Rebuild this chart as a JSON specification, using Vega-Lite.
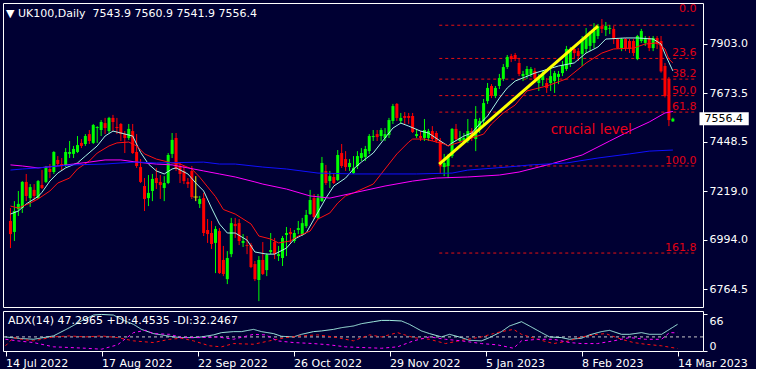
{
  "$schema": "https://vega.github.io/schema/vega-lite/v6.json",
  "background": "#000033",
  "padding": {"left": 2, "top": 2, "right": 0, "bottom": 0},
  "spacing": 2,
  "config": {
    "view": {"stroke": "#ffffff", "strokeWidth": 1, "fill": "#000033"},
    "font": "DejaVu Sans",
    "axis": {"labelFont": "DejaVu Sans", "labelFontSize": 11, "labelColor": "#ffffff", "tickColor": "#ffffff", "domain": false, "grid": false, "title": null},
    "title": {"font": "DejaVu Sans", "fontSize": 11, "fontWeight": "normal", "color": "#ffffff", "anchor": "start", "frame": "group"}
  },
  "datasets": {
    "candles": [
      {"i":0,"o":7082,"h":7142,"l":6956,"c":7021},{"i":1,"o":7031,"h":7174,"l":6989,"c":7128},{"i":2,"o":7137,"h":7221,"l":7105,"c":7161},{"i":3,"o":7142,"h":7267,"l":7119,"c":7263},{"i":4,"o":7263,"h":7300,"l":7174,"c":7198},{"i":5,"o":7188,"h":7253,"l":7147,"c":7239},{"i":6,"o":7226,"h":7253,"l":7174,"c":7198},{"i":7,"o":7188,"h":7272,"l":7184,"c":7267},{"i":8,"o":7249,"h":7318,"l":7230,"c":7235},{"i":9,"o":7263,"h":7337,"l":7258,"c":7332},
      {"i":10,"o":7323,"h":7346,"l":7281,"c":7309},{"i":11,"o":7309,"h":7406,"l":7300,"c":7402},{"i":12,"o":7365,"h":7383,"l":7337,"c":7346},{"i":13,"o":7346,"h":7374,"l":7314,"c":7337},{"i":14,"o":7342,"h":7420,"l":7332,"c":7402},{"i":15,"o":7393,"h":7453,"l":7374,"c":7402},{"i":16,"o":7393,"h":7430,"l":7374,"c":7416},{"i":17,"o":7402,"h":7476,"l":7397,"c":7434},{"i":18,"o":7444,"h":7462,"l":7420,"c":7430},{"i":19,"o":7439,"h":7485,"l":7430,"c":7476},
      {"i":20,"o":7485,"h":7504,"l":7439,"c":7453},{"i":21,"o":7444,"h":7532,"l":7439,"c":7527},{"i":22,"o":7513,"h":7522,"l":7444,"c":7518},{"i":23,"o":7504,"h":7550,"l":7476,"c":7541},{"i":24,"o":7536,"h":7560,"l":7485,"c":7513},{"i":25,"o":7499,"h":7565,"l":7490,"c":7560},{"i":26,"o":7560,"h":7574,"l":7499,"c":7541},{"i":27,"o":7518,"h":7560,"l":7485,"c":7513},{"i":28,"o":7532,"h":7536,"l":7453,"c":7485},{"i":29,"o":7485,"h":7499,"l":7397,"c":7467},
      {"i":30,"o":7467,"h":7532,"l":7458,"c":7509},{"i":31,"o":7499,"h":7532,"l":7393,"c":7397},{"i":32,"o":7402,"h":7485,"l":7328,"c":7337},{"i":33,"o":7332,"h":7369,"l":7258,"c":7263},{"i":34,"o":7244,"h":7281,"l":7128,"c":7184},{"i":35,"o":7188,"h":7295,"l":7151,"c":7212},{"i":36,"o":7221,"h":7300,"l":7174,"c":7277},{"i":37,"o":7281,"h":7328,"l":7230,"c":7258},{"i":38,"o":7263,"h":7295,"l":7184,"c":7249},{"i":39,"o":7235,"h":7290,"l":7174,"c":7258},
      {"i":40,"o":7258,"h":7397,"l":7253,"c":7388},{"i":41,"o":7393,"h":7490,"l":7374,"c":7458},{"i":42,"o":7467,"h":7490,"l":7314,"c":7323},{"i":43,"o":7337,"h":7351,"l":7258,"c":7300},{"i":44,"o":7314,"h":7337,"l":7253,"c":7267},{"i":45,"o":7263,"h":7281,"l":7235,"c":7253},{"i":46,"o":7314,"h":7337,"l":7184,"c":7193},{"i":47,"o":7193,"h":7290,"l":7174,"c":7193},{"i":48,"o":7161,"h":7198,"l":7142,"c":7184},{"i":49,"o":7188,"h":7212,"l":7012,"c":7026},
      {"i":50,"o":7040,"h":7091,"l":6980,"c":7021},{"i":51,"o":7026,"h":7082,"l":6952,"c":6975},{"i":52,"o":6980,"h":7058,"l":6840,"c":7045},{"i":53,"o":7035,"h":7049,"l":6836,"c":6840},{"i":54,"o":6901,"h":6966,"l":6826,"c":6836},{"i":55,"o":6812,"h":6942,"l":6789,"c":6910},{"i":56,"o":6928,"h":7096,"l":6914,"c":7072},{"i":57,"o":7068,"h":7096,"l":7003,"c":7058},{"i":58,"o":7072,"h":7091,"l":6970,"c":6989},{"i":59,"o":6980,"h":7021,"l":6961,"c":6989},
      {"i":60,"o":6970,"h":7012,"l":6928,"c":6966},{"i":61,"o":6970,"h":6980,"l":6863,"c":6868},{"i":62,"o":6882,"h":6896,"l":6803,"c":6812},{"i":63,"o":6808,"h":6919,"l":6710,"c":6901},{"i":64,"o":6901,"h":6984,"l":6831,"c":6836},{"i":65,"o":6854,"h":6933,"l":6826,"c":6924},{"i":66,"o":6938,"h":7026,"l":6928,"c":6947},{"i":67,"o":6984,"h":7003,"l":6905,"c":6928},{"i":68,"o":6919,"h":6966,"l":6896,"c":6928},{"i":69,"o":6910,"h":7012,"l":6873,"c":7003},
      {"i":70,"o":7017,"h":7054,"l":6919,"c":7026},{"i":71,"o":7031,"h":7049,"l":6980,"c":7021},{"i":72,"o":6989,"h":7040,"l":6980,"c":7026},{"i":73,"o":7040,"h":7082,"l":7021,"c":7049},{"i":74,"o":7021,"h":7096,"l":7012,"c":7072},{"i":75,"o":7058,"h":7133,"l":7049,"c":7110},{"i":76,"o":7114,"h":7226,"l":7110,"c":7179},{"i":77,"o":7188,"h":7207,"l":7091,"c":7100},{"i":78,"o":7096,"h":7207,"l":7091,"c":7188},{"i":79,"o":7174,"h":7379,"l":7170,"c":7351},
      {"i":80,"o":7314,"h":7342,"l":7249,"c":7258},{"i":81,"o":7267,"h":7314,"l":7235,"c":7290},{"i":82,"o":7286,"h":7304,"l":7253,"c":7258},{"i":83,"o":7272,"h":7411,"l":7267,"c":7388},{"i":84,"o":7397,"h":7439,"l":7328,"c":7337},{"i":85,"o":7369,"h":7406,"l":7314,"c":7332},{"i":86,"o":7332,"h":7369,"l":7314,"c":7351},{"i":87,"o":7304,"h":7383,"l":7300,"c":7328},{"i":88,"o":7337,"h":7406,"l":7323,"c":7383},{"i":89,"o":7374,"h":7420,"l":7360,"c":7397},
      {"i":90,"o":7379,"h":7430,"l":7360,"c":7416},{"i":91,"o":7406,"h":7485,"l":7393,"c":7476},{"i":92,"o":7471,"h":7504,"l":7453,"c":7476},{"i":93,"o":7485,"h":7504,"l":7453,"c":7471},{"i":94,"o":7476,"h":7513,"l":7453,"c":7504},{"i":95,"o":7467,"h":7513,"l":7453,"c":7485},{"i":96,"o":7481,"h":7560,"l":7467,"c":7550},{"i":97,"o":7546,"h":7625,"l":7532,"c":7615},{"i":98,"o":7625,"h":7629,"l":7546,"c":7560},{"i":99,"o":7546,"h":7583,"l":7532,"c":7560},
      {"i":100,"o":7569,"h":7587,"l":7532,"c":7560},{"i":101,"o":7569,"h":7583,"l":7532,"c":7560},{"i":102,"o":7569,"h":7583,"l":7490,"c":7495},{"i":103,"o":7476,"h":7509,"l":7467,"c":7485},{"i":104,"o":7476,"h":7499,"l":7453,"c":7467},{"i":105,"o":7467,"h":7555,"l":7453,"c":7504},{"i":106,"o":7467,"h":7509,"l":7453,"c":7499},{"i":107,"o":7499,"h":7522,"l":7453,"c":7462},{"i":108,"o":7490,"h":7499,"l":7444,"c":7453},{"i":109,"o":7453,"h":7467,"l":7300,"c":7337},
      {"i":110,"o":7332,"h":7393,"l":7290,"c":7351},{"i":111,"o":7337,"h":7393,"l":7281,"c":7383},{"i":112,"o":7383,"h":7513,"l":7374,"c":7509},{"i":113,"o":7509,"h":7532,"l":7453,"c":7462},{"i":114,"o":7453,"h":7499,"l":7444,"c":7467},{"i":115,"o":7453,"h":7490,"l":7444,"c":7467},{"i":116,"o":7453,"h":7555,"l":7444,"c":7499},{"i":117,"o":7499,"h":7513,"l":7453,"c":7467},{"i":118,"o":7462,"h":7615,"l":7406,"c":7555},{"i":119,"o":7509,"h":7560,"l":7490,"c":7546},
      {"i":120,"o":7546,"h":7648,"l":7518,"c":7629},{"i":121,"o":7638,"h":7722,"l":7625,"c":7699},{"i":122,"o":7708,"h":7717,"l":7652,"c":7662},{"i":123,"o":7662,"h":7708,"l":7652,"c":7699},{"i":124,"o":7708,"h":7764,"l":7694,"c":7745},{"i":125,"o":7741,"h":7810,"l":7731,"c":7796},{"i":126,"o":7796,"h":7852,"l":7787,"c":7843},{"i":127,"o":7847,"h":7857,"l":7819,"c":7833},{"i":128,"o":7852,"h":7861,"l":7824,"c":7833},{"i":129,"o":7815,"h":7838,"l":7754,"c":7764},
      {"i":130,"o":7754,"h":7778,"l":7731,"c":7764},{"i":131,"o":7759,"h":7801,"l":7741,"c":7787},{"i":132,"o":7764,"h":7796,"l":7750,"c":7787},{"i":133,"o":7778,"h":7792,"l":7722,"c":7741},{"i":134,"o":7722,"h":7764,"l":7685,"c":7745},{"i":135,"o":7736,"h":7778,"l":7708,"c":7764},{"i":136,"o":7722,"h":7745,"l":7676,"c":7699},{"i":137,"o":7722,"h":7787,"l":7685,"c":7754},{"i":138,"o":7731,"h":7778,"l":7676,"c":7768},{"i":139,"o":7750,"h":7778,"l":7717,"c":7764},
      {"i":140,"o":7768,"h":7824,"l":7754,"c":7805},{"i":141,"o":7787,"h":7894,"l":7778,"c":7880},{"i":142,"o":7810,"h":7889,"l":7796,"c":7880},{"i":143,"o":7880,"h":7884,"l":7833,"c":7861},{"i":144,"o":7870,"h":7884,"l":7824,"c":7847},{"i":145,"o":7857,"h":7940,"l":7801,"c":7926},{"i":146,"o":7880,"h":7977,"l":7861,"c":7940},{"i":147,"o":7894,"h":7963,"l":7870,"c":7949},{"i":148,"o":7908,"h":8000,"l":7884,"c":7963},{"i":149,"o":7940,"h":7996,"l":7926,"c":7986},
      {"i":150,"o":7986,"h":8019,"l":7954,"c":7973},{"i":151,"o":7968,"h":8005,"l":7940,"c":7986},{"i":152,"o":7973,"h":7991,"l":7949,"c":7977},{"i":153,"o":7973,"h":7986,"l":7903,"c":7926},{"i":154,"o":7926,"h":7931,"l":7880,"c":7884},{"i":155,"o":7884,"h":7931,"l":7870,"c":7926},{"i":156,"o":7926,"h":7931,"l":7870,"c":7884},{"i":157,"o":7917,"h":7926,"l":7861,"c":7880},{"i":158,"o":7917,"h":7926,"l":7847,"c":7861},{"i":159,"o":7833,"h":7945,"l":7828,"c":7940},
      {"i":160,"o":7917,"h":7973,"l":7908,"c":7963},{"i":161,"o":7908,"h":7940,"l":7894,"c":7931},{"i":162,"o":7931,"h":7940,"l":7870,"c":7884},{"i":163,"o":7884,"h":7940,"l":7870,"c":7931},{"i":164,"o":7931,"h":7940,"l":7880,"c":7903},{"i":165,"o":7917,"h":7940,"l":7770,"c":7776},{"i":166,"o":7801,"h":7815,"l":7655,"c":7662},{"i":167,"o":7741,"h":7750,"l":7522,"c":7550},{"i":168,"o":7543.9,"h":7560.9,"l":7541.9,"c":7556.4}
    ],
    "ma": [
      {"s":"fast","i":0,"price":7114},{"s":"fast","i":2,"price":7128},{"s":"fast","i":4,"price":7161},{"s":"fast","i":7,"price":7195},{"s":"fast","i":8,"price":7215},{"s":"fast","i":10,"price":7267},{"s":"fast","i":12,"price":7304},{"s":"fast","i":14,"price":7328},{"s":"fast","i":17,"price":7351},{"s":"fast","i":19,"price":7383},{"s":"fast","i":22,"price":7430},{"s":"fast","i":24,"price":7476},{"s":"fast","i":26,"price":7499},{"s":"fast","i":28,"price":7490},{"s":"fast","i":31,"price":7476},{"s":"fast","i":33,"price":7400},{"s":"fast","i":35,"price":7346},{"s":"fast","i":37,"price":7314},{"s":"fast","i":39,"price":7300},{"s":"fast","i":41,"price":7323},{"s":"fast","i":42,"price":7328},{"s":"fast","i":45,"price":7300},{"s":"fast","i":47,"price":7258},{"s":"fast","i":49,"price":7221},{"s":"fast","i":51,"price":7142},{"s":"fast","i":53,"price":7068},{"s":"fast","i":55,"price":7026},{"s":"fast","i":57,"price":7026},{"s":"fast","i":60,"price":6993},{"s":"fast","i":62,"price":6938},{"s":"fast","i":65,"price":6928},{"s":"fast","i":67,"price":6928},{"s":"fast","i":70,"price":6956},{"s":"fast","i":72,"price":6998},{"s":"fast","i":75,"price":7026},{"s":"fast","i":77,"price":7091},{"s":"fast","i":80,"price":7188},{"s":"fast","i":82,"price":7244},{"s":"fast","i":85,"price":7281},{"s":"fast","i":87,"price":7323},{"s":"fast","i":89,"price":7355},{"s":"fast","i":92,"price":7397},{"s":"fast","i":95,"price":7467},{"s":"fast","i":97,"price":7513},{"s":"fast","i":99,"price":7536},{"s":"fast","i":101,"price":7522},{"s":"fast","i":104,"price":7499},{"s":"fast","i":106,"price":7490},{"s":"fast","i":109,"price":7453},{"s":"fast","i":111,"price":7430},{"s":"fast","i":112,"price":7444},{"s":"fast","i":115,"price":7476},{"s":"fast","i":117,"price":7490},{"s":"fast","i":119,"price":7532},{"s":"fast","i":121,"price":7569},{"s":"fast","i":124,"price":7652},{"s":"fast","i":126,"price":7699},{"s":"fast","i":128,"price":7731},{"s":"fast","i":133,"price":7768},{"s":"fast","i":139,"price":7801},{"s":"fast","i":143,"price":7815},{"s":"fast","i":146,"price":7861},{"s":"fast","i":149,"price":7889},{"s":"fast","i":151,"price":7926},{"s":"fast","i":156,"price":7931},{"s":"fast","i":159,"price":7931},{"s":"fast","i":163,"price":7926},{"s":"fast","i":165,"price":7903},{"s":"fast","i":166,"price":7857},{"s":"fast","i":168,"price":7778},
      {"s":"slow","i":0,"price":7151},{"s":"slow","i":2,"price":7142},{"s":"slow","i":5,"price":7165},{"s":"slow","i":7,"price":7184},{"s":"slow","i":10,"price":7221},{"s":"slow","i":12,"price":7258},{"s":"slow","i":15,"price":7281},{"s":"slow","i":17,"price":7323},{"s":"slow","i":20,"price":7360},{"s":"slow","i":22,"price":7397},{"s":"slow","i":25,"price":7430},{"s":"slow","i":27,"price":7444},{"s":"slow","i":30,"price":7448},{"s":"slow","i":32,"price":7430},{"s":"slow","i":34,"price":7393},{"s":"slow","i":37,"price":7369},{"s":"slow","i":41,"price":7351},{"s":"slow","i":43,"price":7346},{"s":"slow","i":46,"price":7323},{"s":"slow","i":48,"price":7285},{"s":"slow","i":50,"price":7240},{"s":"slow","i":52,"price":7195},{"s":"slow","i":54,"price":7135},{"s":"slow","i":57,"price":7114},{"s":"slow","i":61,"price":7068},{"s":"slow","i":63,"price":7012},{"s":"slow","i":66,"price":6998},{"s":"slow","i":68,"price":6980},{"s":"slow","i":71,"price":6989},{"s":"slow","i":73,"price":7012},{"s":"slow","i":76,"price":7035},{"s":"slow","i":78,"price":7091},{"s":"slow","i":81,"price":7119},{"s":"slow","i":83,"price":7165},{"s":"slow","i":85,"price":7198},{"s":"slow","i":87,"price":7212},{"s":"slow","i":92,"price":7253},{"s":"slow","i":95,"price":7323},{"s":"slow","i":98,"price":7393},{"s":"slow","i":101,"price":7448},{"s":"slow","i":102,"price":7462},{"s":"slow","i":105,"price":7462},{"s":"slow","i":107,"price":7453},{"s":"slow","i":110,"price":7439},{"s":"slow","i":111,"price":7430},{"s":"slow","i":114,"price":7448},{"s":"slow","i":117,"price":7467},{"s":"slow","i":120,"price":7485},{"s":"slow","i":122,"price":7532},{"s":"slow","i":125,"price":7583},{"s":"slow","i":128,"price":7620},{"s":"slow","i":131,"price":7685},{"s":"slow","i":136,"price":7708},{"s":"slow","i":141,"price":7741},{"s":"slow","i":146,"price":7815},{"s":"slow","i":150,"price":7861},{"s":"slow","i":153,"price":7880},{"s":"slow","i":158,"price":7884},{"s":"slow","i":161,"price":7903},{"s":"slow","i":164,"price":7908},{"s":"slow","i":166,"price":7880},{"s":"slow","i":167,"price":7833},{"s":"slow","i":168,"price":7815},
      {"s":"m100","i":0,"price":7342},{"s":"m100","i":3,"price":7337},{"s":"m100","i":7,"price":7328},{"s":"m100","i":12,"price":7337},{"s":"m100","i":16,"price":7346},{"s":"m100","i":20,"price":7355},{"s":"m100","i":24,"price":7365},{"s":"m100","i":28,"price":7365},{"s":"m100","i":32,"price":7355},{"s":"m100","i":37,"price":7346},{"s":"m100","i":41,"price":7342},{"s":"m100","i":45,"price":7328},{"s":"m100","i":49,"price":7314},{"s":"m100","i":53,"price":7300},{"s":"m100","i":57,"price":7286},{"s":"m100","i":62,"price":7263},{"s":"m100","i":64,"price":7253},{"s":"m100","i":70,"price":7230},{"s":"m100","i":76,"price":7198},{"s":"m100","i":81,"price":7188},{"s":"m100","i":87,"price":7212},{"s":"m100","i":95,"price":7244},{"s":"m100","i":102,"price":7267},{"s":"m100","i":108,"price":7281},{"s":"m100","i":116,"price":7286},{"s":"m100","i":124,"price":7295},{"s":"m100","i":129,"price":7309},{"s":"m100","i":137,"price":7346},{"s":"m100","i":145,"price":7388},{"s":"m100","i":152,"price":7453},{"s":"m100","i":157,"price":7499},{"s":"m100","i":162,"price":7541},{"s":"m100","i":166,"price":7583},{"s":"m100","i":168,"price":7590},
      {"s":"m200","i":0,"price":7318},{"s":"m200","i":3,"price":7323},{"s":"m200","i":7,"price":7328},{"s":"m200","i":12,"price":7337},{"s":"m200","i":16,"price":7342},{"s":"m200","i":24,"price":7346},{"s":"m200","i":28,"price":7351},{"s":"m200","i":32,"price":7355},{"s":"m200","i":37,"price":7351},{"s":"m200","i":49,"price":7355},{"s":"m200","i":53,"price":7346},{"s":"m200","i":57,"price":7346},{"s":"m200","i":64,"price":7332},{"s":"m200","i":70,"price":7323},{"s":"m200","i":78,"price":7304},{"s":"m200","i":87,"price":7300},{"s":"m200","i":103,"price":7300},{"s":"m200","i":112,"price":7304},{"s":"m200","i":116,"price":7318},{"s":"m200","i":126,"price":7332},{"s":"m200","i":132,"price":7342},{"s":"m200","i":141,"price":7351},{"s":"m200","i":149,"price":7374},{"s":"m200","i":157,"price":7393},{"s":"m200","i":162,"price":7406},{"s":"m200","i":168,"price":7411}
    ],
    "fib": [
      {"lvl":"0.0","price":7990},{"lvl":"23.6","price":7836},{"lvl":"38.2","price":7740},{"lvl":"50.0","price":7663.5},{"lvl":"61.8","price":7587},{"lvl":"100.0","price":7337},{"lvl":"161.8","price":6933}
    ],
    "trend": [{"i":108.75,"price":7346},{"i":149,"price":7986}],
    "notes": [{"i":137,"price":7504,"label":"crucial level"}],
    "adxlevel": [{"v":25}],
    "adx": [
      {"s":"ADX","i":0,"v":25},{"s":"ADX","i":3,"v":22.6},{"s":"ADX","i":7,"v":20.8},{"s":"ADX","i":12,"v":26.8},{"s":"ADX","i":16,"v":41.4},{"s":"ADX","i":19,"v":53.3},{"s":"ADX","i":22,"v":63.8},{"s":"ADX","i":24,"v":64.9},{"s":"ADX","i":27,"v":63.8},{"s":"ADX","i":29,"v":56.1},{"s":"ADX","i":32,"v":47.3},{"s":"ADX","i":34,"v":38.4},{"s":"ADX","i":37,"v":30.9},{"s":"ADX","i":39,"v":28.6},{"s":"ADX","i":42,"v":25},{"s":"ADX","i":44,"v":23.8},{"s":"ADX","i":47,"v":23.8},{"s":"ADX","i":49,"v":25},{"s":"ADX","i":52,"v":28.6},{"s":"ADX","i":54,"v":32.6},{"s":"ADX","i":57,"v":34.4},{"s":"ADX","i":59,"v":34.4},{"s":"ADX","i":62,"v":38.4},{"s":"ADX","i":64,"v":34.4},{"s":"ADX","i":67,"v":30.9},{"s":"ADX","i":69,"v":26.1},{"s":"ADX","i":72,"v":25},{"s":"ADX","i":74,"v":29.6},{"s":"ADX","i":77,"v":34.4},{"s":"ADX","i":79,"v":35.6},{"s":"ADX","i":82,"v":38.4},{"s":"ADX","i":84,"v":41.4},{"s":"ADX","i":87,"v":44.4},{"s":"ADX","i":89,"v":48.5},{"s":"ADX","i":92,"v":52},{"s":"ADX","i":94,"v":54.3},{"s":"ADX","i":96,"v":54.3},{"s":"ADX","i":99,"v":53.3},{"s":"ADX","i":101,"v":47.3},{"s":"ADX","i":104,"v":35.6},{"s":"ADX","i":106,"v":30.9},{"s":"ADX","i":109,"v":25},{"s":"ADX","i":111,"v":29.6},{"s":"ADX","i":114,"v":23.8},{"s":"ADX","i":116,"v":19},{"s":"ADX","i":119,"v":18},{"s":"ADX","i":121,"v":23.8},{"s":"ADX","i":124,"v":34.4},{"s":"ADX","i":126,"v":44.4},{"s":"ADX","i":129,"v":52},{"s":"ADX","i":131,"v":44.4},{"s":"ADX","i":134,"v":32.6},{"s":"ADX","i":136,"v":25},{"s":"ADX","i":139,"v":23.8},{"s":"ADX","i":141,"v":20.8},{"s":"ADX","i":144,"v":22.6},{"s":"ADX","i":146,"v":28.6},{"s":"ADX","i":149,"v":34.4},{"s":"ADX","i":151,"v":36.7},{"s":"ADX","i":154,"v":29.6},{"s":"ADX","i":156,"v":29.6},{"s":"ADX","i":159,"v":32.6},{"s":"ADX","i":161,"v":29.6},{"s":"ADX","i":164,"v":29.6},{"s":"ADX","i":166,"v":38.4},{"s":"ADX","i":168,"v":47.3},
      {"s":"+DI","i":0,"v":9.2},{"s":"+DI","i":2,"v":23.8},{"s":"+DI","i":4,"v":20.8},{"s":"+DI","i":7,"v":18},{"s":"+DI","i":12,"v":25},{"s":"+DI","i":16,"v":26.8},{"s":"+DI","i":20,"v":25},{"s":"+DI","i":24,"v":26.8},{"s":"+DI","i":28,"v":23.8},{"s":"+DI","i":32,"v":18},{"s":"+DI","i":37,"v":15},{"s":"+DI","i":41,"v":20.8},{"s":"+DI","i":44,"v":22.6},{"s":"+DI","i":47,"v":18},{"s":"+DI","i":51,"v":9.2},{"s":"+DI","i":54,"v":7.4},{"s":"+DI","i":57,"v":13.2},{"s":"+DI","i":62,"v":12},{"s":"+DI","i":66,"v":18},{"s":"+DI","i":70,"v":23.8},{"s":"+DI","i":74,"v":26.8},{"s":"+DI","i":78,"v":28.6},{"s":"+DI","i":82,"v":25},{"s":"+DI","i":87,"v":18},{"s":"+DI","i":91,"v":28.6},{"s":"+DI","i":94,"v":25},{"s":"+DI","i":98,"v":32.6},{"s":"+DI","i":102,"v":23.8},{"s":"+DI","i":106,"v":20.8},{"s":"+DI","i":110,"v":13.2},{"s":"+DI","i":114,"v":19},{"s":"+DI","i":119,"v":25},{"s":"+DI","i":122,"v":30.9},{"s":"+DI","i":124,"v":34.4},{"s":"+DI","i":127,"v":38.4},{"s":"+DI","i":129,"v":29.6},{"s":"+DI","i":133,"v":20.8},{"s":"+DI","i":137,"v":13.2},{"s":"+DI","i":141,"v":18},{"s":"+DI","i":144,"v":25},{"s":"+DI","i":148,"v":29.6},{"s":"+DI","i":150,"v":30.9},{"s":"+DI","i":154,"v":20.8},{"s":"+DI","i":157,"v":15},{"s":"+DI","i":160,"v":12},{"s":"+DI","i":164,"v":9.2},{"s":"+DI","i":168,"v":4.45},
      {"s":"-DI","i":0,"v":20.8},{"s":"-DI","i":3,"v":18},{"s":"-DI","i":7,"v":15},{"s":"-DI","i":12,"v":7.4},{"s":"-DI","i":16,"v":6.2},{"s":"-DI","i":20,"v":4.9},{"s":"-DI","i":24,"v":3.2},{"s":"-DI","i":28,"v":10.9},{"s":"-DI","i":32,"v":32.6},{"s":"-DI","i":35,"v":36.7},{"s":"-DI","i":37,"v":30.9},{"s":"-DI","i":41,"v":29.6},{"s":"-DI","i":44,"v":23.8},{"s":"-DI","i":49,"v":23.8},{"s":"-DI","i":53,"v":25},{"s":"-DI","i":57,"v":20.8},{"s":"-DI","i":62,"v":29.6},{"s":"-DI","i":65,"v":28.6},{"s":"-DI","i":68,"v":18},{"s":"-DI","i":72,"v":15},{"s":"-DI","i":77,"v":13.2},{"s":"-DI","i":81,"v":10.9},{"s":"-DI","i":85,"v":7.4},{"s":"-DI","i":89,"v":6.2},{"s":"-DI","i":94,"v":4.9},{"s":"-DI","i":98,"v":7.4},{"s":"-DI","i":102,"v":18},{"s":"-DI","i":106,"v":25},{"s":"-DI","i":110,"v":20.8},{"s":"-DI","i":114,"v":18},{"s":"-DI","i":119,"v":13.2},{"s":"-DI","i":123,"v":10.9},{"s":"-DI","i":127,"v":4.9},{"s":"-DI","i":129,"v":18},{"s":"-DI","i":133,"v":20.8},{"s":"-DI","i":137,"v":20.8},{"s":"-DI","i":141,"v":15},{"s":"-DI","i":144,"v":13.2},{"s":"-DI","i":148,"v":13.2},{"s":"-DI","i":152,"v":18},{"s":"-DI","i":156,"v":23.8},{"s":"-DI","i":160,"v":20.8},{"s":"-DI","i":164,"v":20.8},{"s":"-DI","i":166,"v":32.6},{"s":"-DI","i":168,"v":32.25}
    ]
  },
  "vconcat": [
    {
      "width": 700,
      "height": 304,
      "title": {"text": "▼ UK100,Daily\u00a0\u00a07543.9 7560.9 7541.9 7556.4", "offset": -16, "dx": 3},
      "layer": [
        {
          "data": {"name": "fib"},
          "mark": {"type": "rule", "color": "#e81010", "strokeDash": [3, 3], "strokeWidth": 1},
          "encoding": {
            "x": {"datum": 108.75, "type": "quantitative", "scale": {"domain": [-0.625, 174.375], "nice": false, "zero": false}, "axis": null},
            "x2": {"datum": 174},
            "y": {"field": "price", "type": "quantitative", "scale": {"domain": [6682.7, 8093.2], "nice": false, "zero": false}, "axis": {"orient": "right", "title": null, "values": [7903, 7673.5, 7448.5, 7219, 6994, 6764.5], "format": ".1f", "tickSize": 4, "labelPadding": 2, "labelBaseline": "middle"}}
          }
        },
        {
          "data": {"name": "fib"},
          "transform": [{"filter": "datum.lvl != '0.0'"}],
          "mark": {"type": "text", "align": "right", "baseline": "bottom", "font": "DejaVu Sans", "fontSize": 11, "color": "#e00014"},
          "encoding": {
            "x": {"datum": 174, "type": "quantitative", "axis": null},
            "y": {"field": "price", "type": "quantitative"},
            "text": {"field": "lvl"}
          }
        },
        {
          "data": {"name": "fib"},
          "transform": [{"filter": "datum.lvl == '0.0'"}],
          "mark": {"type": "text", "align": "right", "baseline": "bottom", "dy": -11, "font": "DejaVu Sans", "fontSize": 11, "color": "#e00014"},
          "encoding": {
            "x": {"datum": 174, "type": "quantitative", "axis": null},
            "y": {"field": "price", "type": "quantitative"},
            "text": {"field": "lvl"}
          }
        },
        {
          "data": {"name": "candles"},
          "mark": {"type": "rule", "strokeWidth": 1},
          "encoding": {
            "x": {"field": "i", "type": "quantitative", "axis": null},
            "y": {"field": "l", "type": "quantitative"},
            "y2": {"field": "h"},
            "color": {"condition": [{"test": "datum.c > datum.o", "value": "#00ff00"}, {"test": "datum.c == datum.o", "value": "#ffff00"}], "value": "#ff0000"}
          }
        },
        {
          "data": {"name": "candles"},
          "mark": {"type": "bar", "width": 3},
          "encoding": {
            "x": {"field": "i", "type": "quantitative", "axis": null},
            "y": {"field": "o", "type": "quantitative"},
            "y2": {"field": "c"},
            "color": {"condition": [{"test": "datum.c > datum.o", "value": "#00ff00"}, {"test": "datum.c == datum.o", "value": "#ffff00"}], "value": "#ff0000"}
          }
        },
        {
          "data": {"name": "candles"},
          "transform": [{"filter": "datum.o == datum.c"}],
          "mark": {"type": "tick", "orient": "horizontal", "size": 5, "thickness": 1, "color": "#ffff00"},
          "encoding": {
            "x": {"field": "i", "type": "quantitative", "axis": null},
            "y": {"field": "o", "type": "quantitative"}
          }
        },
        {
          "data": {"name": "ma"},
          "mark": {"type": "line", "strokeWidth": 1},
          "encoding": {
            "x": {"field": "i", "type": "quantitative", "axis": null},
            "y": {"field": "price", "type": "quantitative"},
            "color": {"field": "s", "type": "nominal", "scale": {"domain": ["fast", "slow", "m100", "m200"], "range": ["#a8f5e6", "#ff1010", "#ff00ff", "#1010ff"]}, "legend": null}
          }
        },
        {
          "data": {"name": "trend"},
          "mark": {"type": "line", "strokeWidth": 3, "color": "#ffff00"},
          "encoding": {
            "x": {"field": "i", "type": "quantitative", "axis": null},
            "y": {"field": "price", "type": "quantitative"}
          }
        },
        {
          "data": {"name": "notes"},
          "mark": {"type": "text", "align": "left", "baseline": "middle", "font": "DejaVu Sans", "fontSize": 13.5, "color": "#ee0018"},
          "encoding": {
            "x": {"field": "i", "type": "quantitative", "axis": null},
            "y": {"field": "price", "type": "quantitative"},
            "text": {"field": "label"}
          }
        },
        {
          "data": {"name": "candles"},
          "transform": [{"filter": "datum.i == 168"}],
          "mark": {"type": "rule", "strokeWidth": 13, "color": "#ffffff"},
          "encoding": {
            "x": {"datum": 174.75, "type": "quantitative", "axis": null},
            "x2": {"datum": 187.25},
            "y": {"field": "c", "type": "quantitative"}
          }
        },
        {
          "data": {"name": "candles"},
          "transform": [{"filter": "datum.i == 168"}],
          "mark": {"type": "text", "align": "left", "baseline": "middle", "font": "DejaVu Sans", "fontSize": 11, "color": "#000000"},
          "encoding": {
            "x": {"datum": 176, "type": "quantitative", "axis": null},
            "y": {"field": "c", "type": "quantitative"},
            "text": {"field": "c", "format": ".1f"}
          }
        }
      ]
    },
    {
      "width": 700,
      "height": 40,
      "title": {"text": "ADX(14) 47.2965 +DI:4.4535 -DI:32.2467", "offset": -15, "dx": 5},
      "layer": [
        {
          "data": {"name": "adxlevel"},
          "mark": {"type": "rule", "color": "#c8c8c8", "strokeDash": [3, 3], "strokeWidth": 1},
          "encoding": {
            "y": {"field": "v", "type": "quantitative", "scale": {"domain": [0, 71], "nice": false, "zero": false}, "axis": {"orient": "right", "title": null, "values": [0, 25, 66], "tickSize": 4, "labelPadding": 2, "labelBaseline": {"condition": [{"test": "datum.value == 66", "value": "top"}, {"test": "datum.value == 0", "value": "bottom"}], "value": "middle"}, "labelOffset": {"condition": {"test": "datum.value == 66", "value": 2}, "value": 0}}}
          }
        },
        {
          "data": {"name": "adx"},
          "mark": {"type": "line", "strokeWidth": 1},
          "encoding": {
            "x": {"field": "i", "type": "quantitative", "scale": {"domain": [-0.625, 174.375], "nice": false, "zero": false}, "axis": {"title": null, "values": [0, 24, 48, 72, 96, 120, 144, 168], "tickSize": 5, "labelAlign": "left", "labelBaseline": "top", "labelPadding": 1, "labelFlush": false, "labelOverlap": false, "labelExpr": "datum.value == 0 ? '14 Jul 2022' : datum.value == 24 ? '17 Aug 2022' : datum.value == 48 ? '22 Sep 2022' : datum.value == 72 ? '26 Oct 2022' : datum.value == 96 ? '29 Nov 2022' : datum.value == 120 ? '5 Jan 2023' : datum.value == 144 ? '8 Feb 2023' : '14 Mar 2023'"}},
            "y": {"field": "v", "type": "quantitative"},
            "color": {"field": "s", "type": "nominal", "scale": {"domain": ["ADX", "+DI", "-DI"], "range": ["#20b2aa", "#00ee00", "#ff1010"]}, "legend": null},
            "strokeDash": {"field": "s", "type": "nominal", "scale": {"domain": ["ADX", "+DI", "-DI"], "range": [[1, 0], [3, 3], [3, 3]]}, "legend": null}
          }
        }
      ]
    }
  ]
}
